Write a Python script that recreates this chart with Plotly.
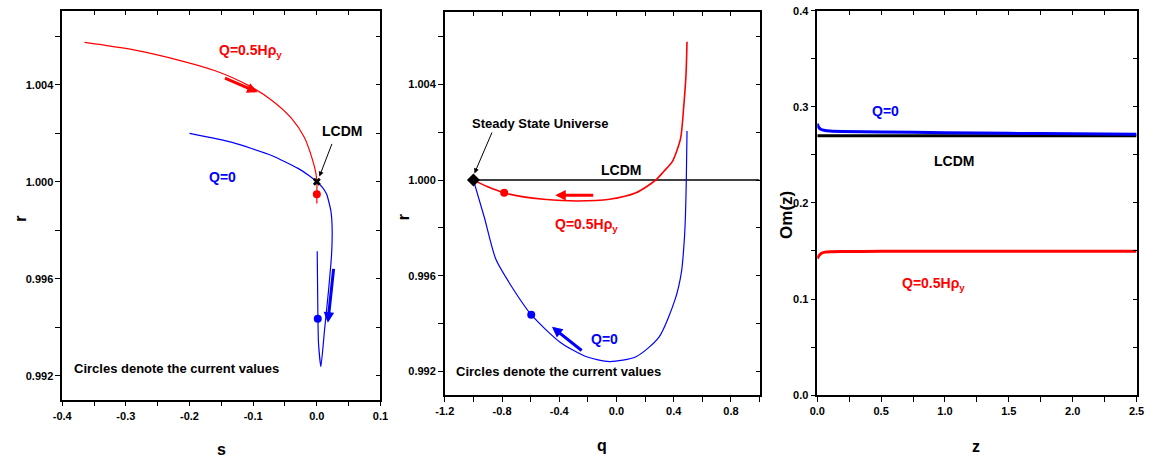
import plotly.graph_objects as go

# ---------------- data ----------------
# Panel 1: r vs s
s_q05 = [-0.365, -0.2875, -0.21, -0.1585, -0.107, -0.071, -0.040, -0.0195, -0.0065, -0.0015, 0.0, 0.0]
r_q05 = [1.00574, 1.00543, 1.00496, 1.00456, 1.00396, 1.00336, 1.00262, 1.00182, 1.00088, 1.00035, 1.0, 0.9991]
s_q0 = [-0.2, -0.133, -0.071, -0.0295, -0.012, 0.0, 0.0085, 0.0155, 0.022, 0.024, 0.0233, 0.0182, 0.012, 0.0064, 0.0027, 0.0017, 0.0006]
r_q0 = [1.00199, 1.00162, 1.00108, 1.00055, 1.00025, 1.0, 0.99978, 0.99948, 0.99881, 0.99814, 0.99707, 0.99546, 0.99386, 0.99238, 0.99332, 0.99439, 0.99713]
now_s = [0.0, 0.0015]
now_r_sr = [0.99948, 0.99435]
lcdm_s, lcdm_r = [0.0], [1.0]

# Panel 2: r vs q
q_q05 = [-1.0, -0.9, -0.785, -0.65, -0.509, -0.278, -0.048, 0.136, 0.274, 0.33, 0.389, 0.447, 0.470, 0.486, 0.493]
rq_q05 = [1.0, 0.99972, 0.99947, 0.9993, 0.9992, 0.99913, 0.9992, 0.99947, 1.0, 1.00036, 1.00076, 1.00171, 1.00307, 1.00442, 1.00578]
q_q0 = [-1.0, -0.924, -0.843, -0.739, -0.596, -0.394, -0.209, -0.048, 0.136, 0.297, 0.412, 0.455, 0.474, 0.482, 0.488, 0.493]
rq_q0 = [1.0, 0.99845, 0.99669, 0.99561, 0.99438, 0.99323, 0.99262, 0.99242, 0.99262, 0.99344, 0.99506, 0.9962, 0.9975, 0.9985, 1.0, 1.00205]
now_q = [-0.785, -0.596]
now_r_qr = [0.99947, 0.99438]
lcdm_q = [-1.0, 1.0]
lcdm_rq = [1.0, 1.0]
ssu_q, ssu_r = [-1.0], [1.0]

# Panel 3: Om(z)
z_vals = [0.0, 0.01, 0.03, 0.06, 0.1, 0.2, 0.5, 1.0, 1.5, 2.0, 2.5]
om_q0 = [0.2825, 0.279, 0.2765, 0.2755, 0.275, 0.2745, 0.274, 0.2732, 0.2725, 0.272, 0.2715]
om_q05 = [0.142, 0.1445, 0.1475, 0.1488, 0.1493, 0.1495, 0.1496, 0.1497, 0.1497, 0.1497, 0.1497]
om_lcdm = [0.27] * len(z_vals)

# ticks
s_ticks = [-0.4, -0.35, -0.3, -0.25, -0.2, -0.15, -0.1, -0.05, 0.0, 0.05, 0.1]
s_text = ["-0.4", "", "-0.3", "", "-0.2", "", "-0.1", "", "0.0", "", "0.1"]
r_ticks = [0.992, 0.994, 0.996, 0.998, 1.000, 1.002, 1.004, 1.006]
r_text = ["0.992", "", "0.996", "", "1.000", "", "1.004", ""]
q_ticks = [-1.2, -1.0, -0.8, -0.6, -0.4, -0.2, 0.0, 0.2, 0.4, 0.6, 0.8, 1.0]
q_text = ["-1.2", "", "-0.8", "", "-0.4", "", "0.0", "", "0.4", "", "0.8", ""]
z_ticks = [0.0, 0.25, 0.5, 0.75, 1.0, 1.25, 1.5, 1.75, 2.0, 2.25, 2.5]
z_text = ["0.0", "", "0.5", "", "1.0", "", "1.5", "", "2.0", "", "2.5"]
om_ticks = [0.0, 0.05, 0.1, 0.15, 0.2, 0.25, 0.3, 0.35, 0.4]
om_text = ["0.0", "", "0.1", "", "0.2", "", "0.3", "", "0.4"]

# ---------------- figure ----------------
W, H = 1161, 468
RED, BLUE, BLACK = "#ff0000", "#0000ff", "#000000"
FONT = "Liberation Sans, Arial, sans-serif"

fig = go.Figure()

def add(x, y, xa, ya, **kw):
    fig.add_trace(go.Scatter(x=x, y=y, xaxis=xa, yaxis=ya, showlegend=False,
                             hoverinfo="skip", **kw))

# panel 1
add(s_q05, r_q05, "x", "y", mode="lines", line=dict(color=RED, width=1.2, shape="spline", smoothing=0.8))
add(s_q0, r_q0, "x", "y", mode="lines", line=dict(color=BLUE, width=1.2, shape="spline", smoothing=0.5))
add(now_s, now_r_sr, "x", "y", mode="markers", marker=dict(color=[RED, BLUE], size=8))
add(lcdm_s, lcdm_r, "x", "y", mode="markers", marker=dict(color=BLACK, size=7, symbol="x"))
# panel 2
add(lcdm_q, lcdm_rq, "x2", "y2", mode="lines", line=dict(color=BLACK, width=1.5))
add(q_q05, rq_q05, "x2", "y2", mode="lines", line=dict(color=RED, width=1.6, shape="spline", smoothing=0.7))
add(q_q0, rq_q0, "x2", "y2", mode="lines", line=dict(color=BLUE, width=1.2, shape="spline", smoothing=0.7))
add(now_q, now_r_qr, "x2", "y2", mode="markers", marker=dict(color=[RED, BLUE], size=8))
add(ssu_q, ssu_r, "x2", "y2", mode="markers", marker=dict(color=BLACK, size=10, symbol="diamond"))
# panel 3
add(z_vals, om_lcdm, "x3", "y3", mode="lines", line=dict(color=BLACK, width=3))
add(z_vals, om_q0, "x3", "y3", mode="lines", line=dict(color=BLUE, width=3, shape="spline", smoothing=0.6))
add(z_vals, om_q05, "x3", "y3", mode="lines", line=dict(color=RED, width=3, shape="spline", smoothing=0.6))

# empty traces to register the mirrored inner-tick axes
for xa, ya in [("x4", "y"), ("x", "y4"), ("x5", "y2"), ("x2", "y5"), ("x6", "y3"), ("x3", "y6")]:
    add([], [], xa, ya, mode="lines")

tickfont = dict(family=FONT, size=11, color=BLACK, weight="bold")

def xax(domain, rng, tv, tt, anchor):
    return dict(domain=domain, range=rng, anchor=anchor, tickmode="array", tickvals=tv, ticktext=tt,
                ticks="outside", ticklen=5, tickwidth=1.3, tickcolor=BLACK, showline=True,
                linecolor=BLACK, linewidth=1.5, mirror=True, showgrid=False, zeroline=False,
                tickfont=tickfont, fixedrange=True, ticklabeloverflow="allow")

def inner(base_dom, rng, tv, side, overlay, anchor):
    return dict(domain=base_dom, range=rng, overlaying=overlay, side=side, anchor=anchor,
                tickmode="array", tickvals=tv, ticktext=[""] * len(tv), ticks="inside", ticklen=4,
                tickwidth=1.3, tickcolor=BLACK, showline=False, showgrid=False, zeroline=False,
                showticklabels=False)

d1x = [54 / W, 377 / W]
d1y = [1 - 404 / H, 1 - 5 / H]
d2x = [442.3 / W, 761.7 / W]
d2y = [1 - 399.3 / H, 1 - 6 / H]
d3x = [820.3 / W, 1144.3 / W]
d3y = [1 - 399.3 / H, 1 - 5 / H]
R1 = [0.99102, 1.00704]
R2 = [0.99102, 1.00703]

fig.update_layout(
    width=W, height=H, margin=dict(l=0, r=0, t=0, b=0),
    paper_bgcolor="white", plot_bgcolor="white", showlegend=False,
    xaxis=xax(d1x, [-0.4, 0.1], s_ticks, s_text, "y"),
    yaxis=xax(d1y, R1, r_ticks, r_text, "x"),
    xaxis2=xax(d2x, [-1.2, 1.0], q_ticks, q_text, "y2"),
    yaxis2=xax(d2y, R2, r_ticks, r_text, "x2"),
    xaxis3=xax(d3x, [0, 2.5], z_ticks, z_text, "y3"),
    yaxis3=xax(d3y, [0, 0.4], om_ticks, om_text, "x3"),
    xaxis4=inner(d1x, [-0.4, 0.1], s_ticks, "top", "x", "y"),
    yaxis4=inner(d1y, R1, r_ticks, "right", "y", "x"),
    xaxis5=inner(d2x, [-1.2, 1.0], q_ticks, "top", "x2", "y2"),
    yaxis5=inner(d2y, R2, r_ticks, "right", "y2", "x2"),
    xaxis6=inner(d3x, [0, 2.5], z_ticks, "top", "x3", "y3"),
    yaxis6=inner(d3y, [0, 0.4], om_ticks, "right", "y3", "x3"),
)

lab = dict(family=FONT, size=13)
big = dict(family=FONT, size=14)

def txt(x, y, text, xr, yr, color, font=lab):
    fig.add_annotation(x=x, y=y, xref=xr, yref=yr, text=text, showarrow=False,
                       font=dict(color=color, **font), xanchor="center", yanchor="middle")

def arrow(x, y, ax, ay, xr, yr, color, width, head=2, size=1.0):
    fig.add_annotation(x=x, y=y, ax=ax, ay=ay, xref=xr, yref=yr, axref=xr, ayref=yr,
                       text="", showarrow=True, arrowhead=head, arrowsize=size,
                       arrowwidth=width, arrowcolor=color, standoff=0)

# panel 1 annotations
txt(-0.1043, 1.00540, "<b>Q=0.5Hρ<sub>y</sub></b>", "x", "y", RED, big)
txt(0.0396, 1.0021, "<b>LCDM</b>", "x", "y", BLACK, big)
txt(-0.1481, 1.00021, "<b>Q=0</b>", "x", "y", BLUE, big)
txt(-0.2204, 0.99231, "<b>Circles denote the current values</b>", "x", "y", BLACK)
arrow(0.0040, 1.00021, 0.0246, 1.00162, "x", "y", BLACK, 1, head=2, size=1)
arrow(-0.0930, 1.00369, -0.1466, 1.0043, "x", "y", RED, 3, head=2, size=0.7)
arrow(0.0173, 0.99419, 0.0266, 0.99647, "x", "y", BLUE, 3, head=2, size=0.7)

# panel 2 annotations
txt(-0.532, 1.00236, "<b>Steady State Universe</b>", "x2", "y2", BLACK)
txt(0.032, 1.00042, "<b>LCDM</b>", "x2", "y2", BLACK, big)
txt(-0.209, 0.99812, "<b>Q=0.5Hρ<sub>y</sub></b>", "x2", "y2", RED, big)
txt(-0.083, 0.99337, "<b>Q=0</b>", "x2", "y2", BLUE, big)
txt(-0.406, 0.99201, "<b>Circles denote the current values</b>", "x2", "y2", BLACK)
arrow(-0.993, 1.00028, -0.866, 1.00205, "x2", "y2", BLACK, 1, head=2, size=1)
arrow(-0.428, 0.99937, -0.152, 0.99937, "x2", "y2", RED, 3, head=2, size=0.7)
arrow(-0.451, 0.99387, -0.233, 0.99283, "x2", "y2", BLUE, 3, head=2, size=0.7)

# panel 3 annotations
txt(0.538, 0.2962, "<b>Q=0</b>", "x3", "y3", BLUE, big)
txt(1.073, 0.2435, "<b>LCDM</b>", "x3", "y3", BLACK, big)
txt(0.910, 0.116, "<b>Q=0.5Hρ<sub>y</sub></b>", "x3", "y3", RED, big)

# axis titles
def title(px, py, text, angle=0, size=16):
    fig.add_annotation(x=px / W, y=1 - py / H, xref="paper", yref="paper", text=text,
                       showarrow=False, textangle=angle, xanchor="center", yanchor="middle",
                       font=dict(family=FONT, size=size, color=BLACK))

title(215.5, 455, "<b>s</b>")
title(601.7, 451, "<b>q</b>")
title(981.7, 452, "<b>z</b>")
title(11.5, 218, "<b>r</b>", -90)
title(400, 216.7, "<b>r</b>", -90)
title(789, 214, "<b>Om(z)</b>", -90, 17)

fig.write_html("out.html")
